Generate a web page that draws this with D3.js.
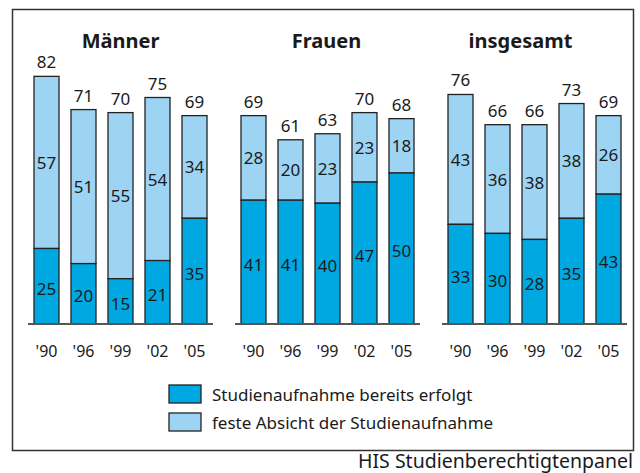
<!DOCTYPE html>
<html>
<head>
<meta charset="utf-8">
<script src="https://cdn.jsdelivr.net/npm/d3@7"></script>
<style>
  body { margin: 0; background: #fff; }
  text { font-family: "Noto Sans", "Open Sans", sans-serif; fill: #1a1a1a; }
</style>
</head>
<body>
<div id="chart"></div>
<script>
var groups = ["Männer", "Frauen", "insgesamt"]
var years = ["'90", "'96", "'99", "'02", "'05"]
var erfolgt = [
  [25, 20, 15, 21, 35],
  [41, 41, 40, 47, 50],
  [33, 30, 28, 35, 43]
]
var absicht = [
  [57, 51, 55, 54, 34],
  [28, 20, 23, 23, 18],
  [43, 36, 38, 38, 26]
]
var legendLabels = ["Studienaufnahme bereits erfolgt", "feste Absicht der Studienaufnahme"]
var colors = ["#00a8e1", "#9dd4f3"]

var fullWidth = 640
var fullHeight = 473
var baseline = 324
var panelLeft = [28, 235, 442]
var panelWidth = 185
var titleShift = [0, -1, -14]

var y = d3.scaleLinear().domain([0, 100]).range([baseline, baseline - 302])

var svg = d3.select("#chart")
  .append("svg")
    .attr("width", fullWidth)
    .attr("height", fullHeight)

// frame
svg.append("rect")
  .attr("x", 12.5).attr("y", 9.5)
  .attr("width", 621).attr("height", 441)
  .attr("fill", "none")
  .attr("stroke", "#333")
  .attr("stroke-width", 1.5)

groups.forEach(function(name, g) {
  var x = d3.scaleBand()
    .domain(years)
    .range([panelLeft[g], panelLeft[g] + panelWidth])
    .paddingInner(0.324)
    .paddingOuter(0.162)

  var panel = svg.append("g").attr("class", "panel")

  panel.append("text")
    .attr("x", panelLeft[g] + panelWidth / 2 + titleShift[g])
    .attr("y", 48)
    .attr("text-anchor", "middle")
    .style("font-size", "20px")
    .style("font-weight", "bold")
    .text(name)

  var rows = years.map(function(yr, i) {
    return {year: yr, a: erfolgt[g][i], b: absicht[g][i]}
  })

  var bar = panel.selectAll(".bar")
    .data(rows)
    .enter().append("g")
      .attr("class", "bar")
      .attr("transform", function(d) { return "translate(" + x(d.year) + ",0)" })

  bar.append("rect")
    .attr("width", x.bandwidth())
    .attr("y", function(d) { return y(d.a + d.b) })
    .attr("height", function(d) { return y(d.a) - y(d.a + d.b) })
    .attr("fill", colors[1])
    .attr("stroke", "#222")
    .attr("stroke-width", 1.3)

  bar.append("rect")
    .attr("width", x.bandwidth())
    .attr("y", function(d) { return y(d.a) })
    .attr("height", function(d) { return baseline - y(d.a) })
    .attr("fill", colors[0])
    .attr("stroke", "#222")
    .attr("stroke-width", 1.3)

  bar.append("text")
    .attr("x", x.bandwidth() / 2)
    .attr("y", function(d) { return (y(d.a) + baseline) / 2 + 2 })
    .attr("text-anchor", "middle")
    .attr("dominant-baseline", "central")
    .style("font-size", "17px")
    .text(function(d) { return d.a })

  bar.append("text")
    .attr("x", x.bandwidth() / 2)
    .attr("y", function(d) { return (y(d.a) + y(d.a + d.b)) / 2 })
    .attr("text-anchor", "middle")
    .attr("dominant-baseline", "central")
    .style("font-size", "17px")
    .text(function(d) { return d.b })

  bar.append("text")
    .attr("x", x.bandwidth() / 2)
    .attr("y", function(d) { return y(d.a + d.b) - 8 })
    .attr("text-anchor", "middle")
    .style("font-size", "17px")
    .text(function(d) { return d.a + d.b })

  panel.append("line")
    .attr("x1", panelLeft[g]).attr("x2", panelLeft[g] + panelWidth)
    .attr("y1", baseline).attr("y2", baseline)
    .attr("stroke", "#555")
    .attr("stroke-width", 2)

  panel.selectAll(".year")
    .data(years)
    .enter().append("text")
      .attr("class", "year")
      .attr("x", function(d) { return x(d) + x.bandwidth() / 2 })
      .attr("y", 357)
      .attr("text-anchor", "middle")
      .style("font-size", "16px")
      .text(function(d) { return d })
})

var legend = svg.selectAll(".legend")
  .data(legendLabels)
  .enter().append("g")
    .attr("class", "legend")
    .attr("transform", function(d, i) { return "translate(169," + (385 + i * 28) + ")" })

legend.append("rect")
  .attr("width", 32).attr("height", 18)
  .attr("fill", function(d, i) { return colors[i] })
  .attr("stroke", "#222")
  .attr("stroke-width", 1.3)

legend.append("text")
  .attr("x", 43).attr("y", 9)
  .attr("dominant-baseline", "central")
  .style("font-size", "17px")
  .text(function(d) { return d })

svg.append("text")
  .attr("x", 633).attr("y", 468)
  .attr("text-anchor", "end")
  .style("font-size", "19.5px")
  .text("HIS Studienberechtigtenpanel")
</script>
</body>
</html>
